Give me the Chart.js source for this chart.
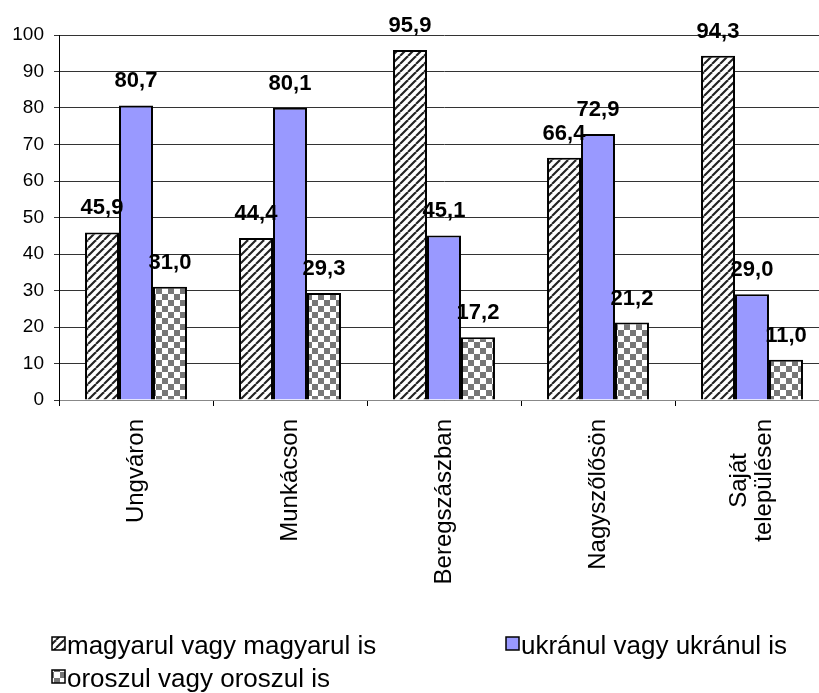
<!DOCTYPE html>
<html>
<head>
<meta charset="utf-8">
<script src="https://cdn.jsdelivr.net/npm/chart.js@4"></script>
<style>
  html, body { margin: 0; padding: 0; background: #fff; overflow: hidden; }
  #wrap { width: 819px; height: 693px; overflow: hidden; }
</style>
</head>
<body>
<div id="wrap"><canvas id="chart" width="840" height="693"></canvas></div>
<script>
const categories = ["Ungváron", "Munkácson", "Beregszászban", "Nagyszőlősön", ["Saját", "településen"]];
const seriesNames = ["magyarul vagy magyarul is", "ukránul vagy ukránul is", "oroszul vagy oroszul is"];
const magyar = [45.9, 44.4, 95.9, 66.4, 94.3];
const ukran = [80.7, 80.1, 45.1, 72.9, 29.0];
const orosz = [31.0, 29.3, 17.2, 21.2, 11.0];
const yMin = 0, yMax = 100, yStep = 10;

const FONT = "'Liberation Sans', Arial, sans-serif";

// fill patterns like the old Excel ones
function hatchPattern() {
  const c = document.createElement("canvas");
  c.width = 8; c.height = 8;
  const g = c.getContext("2d");
  g.fillStyle = "#fff";
  g.fillRect(0, 0, 8, 8);
  g.strokeStyle = "#222";
  g.lineWidth = 2.1;
  for (const o of [-8, 0, 8]) {
    g.beginPath();
    g.moveTo(o, 8);
    g.lineTo(o + 8, 0);
    g.stroke();
  }
  return g.createPattern(c, "repeat");
}
function checkerPattern() {
  const c = document.createElement("canvas");
  c.width = 12; c.height = 12;
  const g = c.getContext("2d");
  g.fillStyle = "#fff";
  g.fillRect(0, 0, 12, 12);
  g.fillStyle = "#777";
  g.fillRect(0, 0, 6, 6);
  g.fillRect(6, 6, 6, 6);
  return g.createPattern(c, "repeat");
}
const fills = [hatchPattern(), "#9999ff", checkerPattern()];

// value labels above bars, "45,9" style
const valueLabels = {
  id: "valueLabels",
  afterDatasetsDraw(chart) {
    const ctx = chart.ctx;
    ctx.save();
    ctx.font = "bold 22px " + FONT;
    ctx.fillStyle = "#000";
    ctx.textAlign = "center";
    ctx.textBaseline = "alphabetic";
    chart.data.datasets.forEach((ds, i) => {
      chart.getDatasetMeta(i).data.forEach((bar, j) => {
        ctx.fillText(ds.data[j].toFixed(1).replace(".", ","), bar.x, bar.y - 18);
      });
    });
    ctx.restore();
  }
};

// rotated category labels, lines centred on each other
const catLabels = {
  id: "catLabels",
  afterDraw(chart) {
    const ctx = chart.ctx;
    const x = chart.scales.x;
    ctx.save();
    ctx.font = "24px " + FONT;
    ctx.fillStyle = "#000";
    ctx.textBaseline = "middle";
    ctx.textAlign = "center";
    categories.forEach((lab, i) => {
      const lines = Array.isArray(lab) ? lab : [lab];
      const w = Math.max(...lines.map(l => ctx.measureText(l).width));
      const lh = 25;
      ctx.save();
      ctx.translate(x.getPixelForValue(i), x.top + 19);
      ctx.rotate(-Math.PI / 2);
      lines.forEach((l, k) => {
        ctx.fillText(l, -w / 2, (k - (lines.length - 1) / 2) * lh);
      });
      ctx.restore();
    });
    ctx.restore();
  }
};

// legend in two columns at the bottom
const legendBox = {
  id: "legendBox",
  afterDraw(chart) {
    const ctx = chart.ctx;
    const spots = [[52, 654], [506, 654], [52, 687]];
    ctx.save();
    ctx.font = "26px " + FONT;
    ctx.textBaseline = "alphabetic";
    seriesNames.forEach((name, i) => {
      const [sx, by] = spots[i];
      ctx.fillStyle = fills[i];
      ctx.fillRect(sx, by - 17, 13, 13);
      ctx.strokeStyle = "#000";
      ctx.lineWidth = 1.5;
      ctx.strokeRect(sx, by - 17, 13, 13);
      ctx.fillStyle = "#000";
      ctx.fillText(name, sx + 15, by);
    });
    ctx.restore();
  }
};

new Chart(document.getElementById("chart"), {
  type: "bar",
  data: {
    labels: categories,
    datasets: [magyar, ukran, orosz].map((d, i) => ({
      label: seriesNames[i],
      data: d,
      backgroundColor: fills[i],
      borderColor: "#000",
      borderWidth: 2,
      categoryPercentage: 0.662,
      barPercentage: 1.0
    }))
  },
  options: {
    responsive: false,
    animation: false,
    events: [],
    layout: { padding: { left: 0, top: 35, right: 11, bottom: 193 } },
    plugins: {
      legend: { display: false },
      tooltip: { enabled: false }
    },
    scales: {
      x: {
        grid: { display: true, drawOnChartArea: false, drawTicks: true, tickLength: 6, color: "#000", offset: true },
        border: { color: "#888", width: 1 },
        ticks: { display: false },
        afterFit: s => { s.height = 100; }
      },
      y: {
        min: yMin,
        max: yMax,
        ticks: { stepSize: yStep, color: "#000", padding: 10, font: { family: FONT, size: 19 } },
        grid: { color: "#333", tickLength: 5 },
        border: { color: "#000", width: 1 },
        afterFit: s => { s.width = 59; }
      }
    }
  },
  plugins: [valueLabels, catLabels, legendBox]
});
</script>
</body>
</html>
